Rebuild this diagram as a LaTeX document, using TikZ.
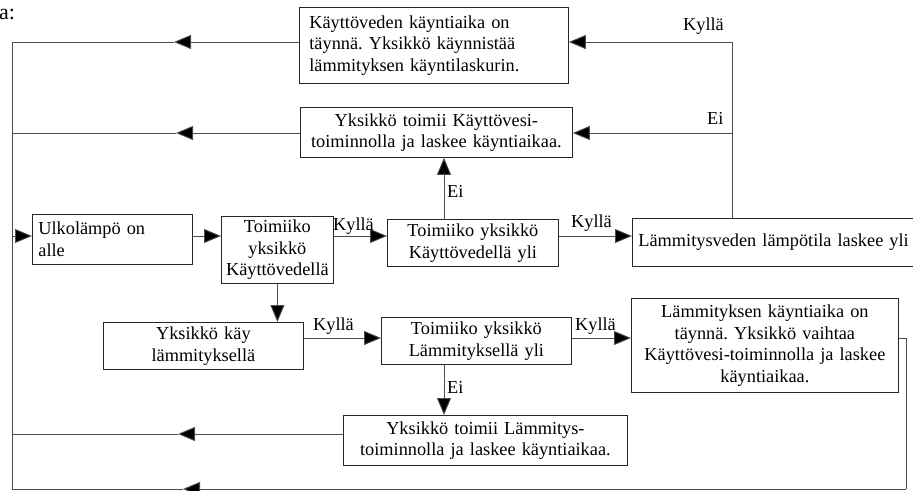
\documentclass[tikz,border=0pt]{standalone}
\usepackage{fontspec}
\setmainfont{Liberation Serif}
\usetikzlibrary{arrows.meta}
\newcommand\fs{\fontsize{18.3}{21.5}\selectfont}
\frenchspacing
\begin{document}
\begin{tikzpicture}[x=1pt,y=-1pt,
  box/.style={draw=black!85, line width=0.8pt, anchor=north west, inner xsep=4pt, inner ysep=0pt, font=\fs, align=center},
  lbox/.style={box, align=left},
  ln/.style={draw=black!70, line width=0.9pt},
  arr/.style={ln, -{Triangle[length=17pt,width=14pt,fill=black]}},
  lab/.style={anchor=base west, inner sep=0pt, font=\fs}]
\useasboundingbox (0,0) rectangle (913,490);

\node[lab, font=\fontsize{22}{24}\selectfont] (a) at (-1,19) {a:};

\node[lbox, inner xsep=10pt, text width=249pt, minimum height=76pt] (b1) at (299,7)
  {Käyttöveden käyntiaika on\\täynnä. Yksikkö käynnistää\\lämmityksen käyntilaskurin.};
\node[box, text width=264pt, minimum height=50pt] (b2) at (300,107)
  {Yksikkö toimii Käyttövesi-\\toiminnolla ja laskee käyntiaikaa.};
\node[lbox, inner xsep=6pt, text width=148pt, minimum height=50pt] (u) at (32,214)
  {Ulkolämpö on\\alle};
\node[box, inner xsep=1pt, text width=110pt, minimum height=67pt] (t1) at (221,216)
  {Toimiiko\\yksikkö\\Käyttövedellä};
\node[box, text width=163pt, minimum height=47pt] (b3) at (387,219)
  {Toimiiko yksikkö\\Käyttövedellä yli};
\node[lbox, inner xsep=6pt, text width=288pt, minimum height=48pt] (b4) at (632,218)
  {Lämmitysveden lämpötila laskee yli};
\node[box, text width=192pt, minimum height=47pt] (ky) at (103,322)
  {Yksikkö käy\\lämmityksellä};
\node[box, text width=182pt, minimum height=47pt] (t2) at (381,317)
  {Toimiiko yksikkö\\Lämmityksellä yli};
\node[box, text width=259pt, minimum height=94pt] (b5) at (631,298)
  {Lämmityksen käyntiaika on\\täynnä. Yksikkö vaihtaa\\Käyttövesi-toiminnolla ja laskee\\käyntiaikaa.};
\node[box, text width=276pt, minimum height=50pt] (b6) at (343,415)
  {Yksikkö toimii Lämmitys-\\toiminnolla ja laskee käyntiaikaa.};

\coordinate (lt) at (12,42);
\coordinate (lb) at (12,489);
\coordinate (k1) at (732,42);
\coordinate (k2) at (732,133);
\coordinate (m1) at (174,42);
\coordinate (m2) at (176,133);
\coordinate (m3) at (178,434);
\coordinate (m4) at (183,489);
\coordinate (rc) at (906,489);
\coordinate (ya) at (0,236);
\coordinate (yb) at (0,338);
\coordinate (yc) at (0,434);
\coordinate (xa) at (444,0);

\draw[ln] (lt) -- (lb);
\draw[arr] (lt |- ya) -- (u.west |- ya);
\draw[arr] (u.east |- ya) -- (t1.west |- ya);
\draw[arr] (t1.east |- ya) -- (b3.west |- ya);
\draw[arr] (b3.east |- ya) -- (b4.west |- ya);
\draw[ln] (b4.north -| k1) -- (k1);
\draw[arr] (k1) -- (b1.east |- k1);
\draw[arr] (k2) -- (b2.east |- k2);
\draw[arr] (b3.north -| xa) -- (b2.south -| xa);
\draw[arr] (b1.west |- k1) -- (m1);
\draw[ln] (m1) -- (lt);
\draw[arr] (b2.west |- k2) -- (m2);
\draw[ln] (m2) -- (lt |- k2);
\draw[arr] (t1.south) -- (ky.north -| t1.south);
\draw[arr] (ky.east |- yb) -- (t2.west |- yb);
\draw[arr] (t2.east |- yb) -- (b5.west |- yb);
\draw[arr] (t2.south -| xa) -- (b6.north -| xa);
\draw[arr] (b6.west |- yc) -- (m3);
\draw[ln] (m3) -- (lt |- yc);
\draw[ln] (b5.east |- yb) -| (rc);
\draw[arr] (rc) -- (m4);
\draw[ln] (m4) -- (lb);

\node[lab] (l1) at (683,30) {Kyllä};
\node[lab] (l2) at (707,124) {Ei};
\node[lab] (l3) at (447,197) {Ei};
\node[lab] (l4) at (333,230) {Kyllä};
\node[lab] (l5) at (571,227) {Kyllä};
\node[lab] (l6) at (313,330) {Kyllä};
\node[lab] (l7) at (575,330) {Kyllä};
\node[lab] (l8) at (447,393) {Ei};
\end{tikzpicture}
\end{document}
